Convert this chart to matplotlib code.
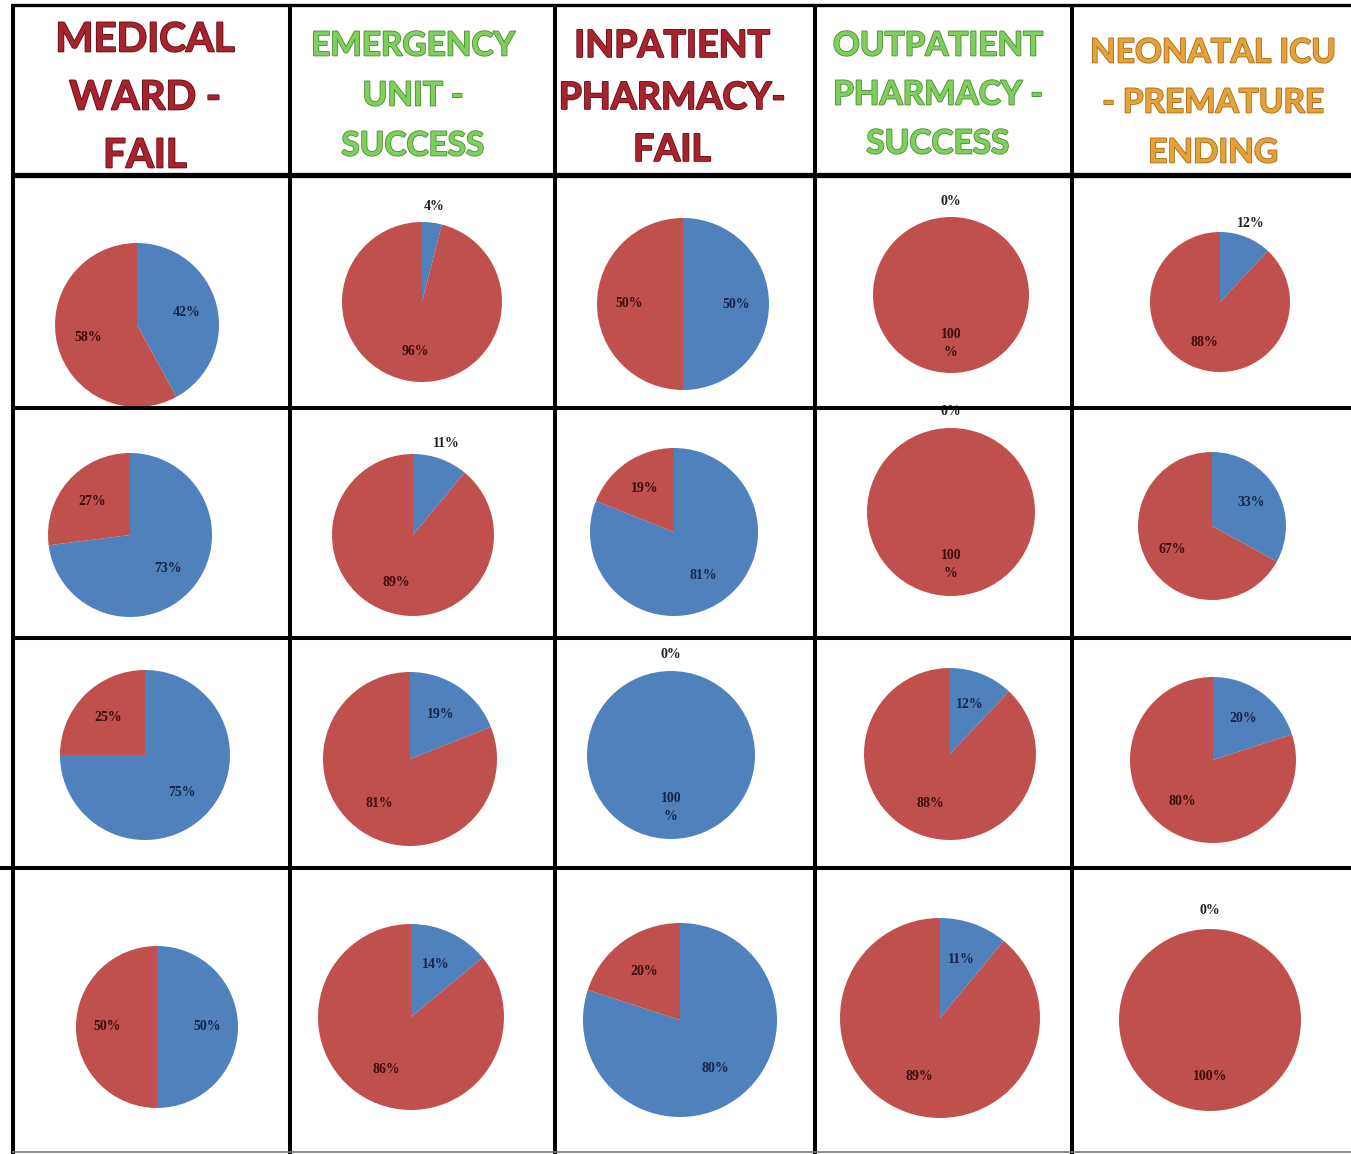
import matplotlib
matplotlib.use("Agg")
import matplotlib.pyplot as plt
import matplotlib.patheffects as pe
import numpy as np

# ---------------- data ----------------
units = ["MEDICAL\nWARD -\nFAIL",
         "EMERGENCY\nUNIT -\nSUCCESS",
         "INPATIENT\nPHARMACY-\nFAIL",
         "OUTPATIENT\nPHARMACY -\nSUCCESS",
         "NEONATAL ICU\n- PREMATURE\nENDING"]
# blue share (%) and red share (%) per row, for each unit
medical_ward_blue = [42, 73, 75, 50]
medical_ward_red = [58, 27, 25, 50]
emergency_blue = [4, 11, 19, 14]
emergency_red = [96, 89, 81, 86]
inpatient_blue = [50, 81, 100, 80]
inpatient_red = [50, 19, 0, 20]
outpatient_blue = [0, 0, 12, 11]
outpatient_red = [100, 100, 88, 89]
neonatal_blue = [12, 33, 20, 0]
neonatal_red = [88, 67, 80, 100]

blue_cols = [medical_ward_blue, emergency_blue, inpatient_blue, outpatient_blue, neonatal_blue]
red_cols = [medical_ward_red, emergency_red, inpatient_red, outpatient_red, neonatal_red]

# ---------------- style / layout ----------------
W, H = 1351, 1154
BLUE = "#4f81bd"
RED = "#c0504d"
header_colors = ["#a8232d", "#7fcf5c", "#a8232d", "#7fcf5c", "#e6a23a"]
header_edge = ["#5e0f14", "#4b8c33", "#5e0f14", "#4b8c33", "#a86a12"]
header_cx = [145, 413, 672, 938, 1213]
header_y0 = [40, 46, 46, 46, 53]
header_step = [58, 50, 52, 49, 50]
header_fs = [29, 24, 27, 24, 24]

# pie centers (px) and radii (px) per row/col
centers = [
    [(137, 325), (422, 302), (683, 304), (951, 295), (1220, 302)],
    [(130, 535), (413, 535), (674, 532), (951, 512), (1212, 526)],
    [(145, 755), (410, 759), (671, 755), (950, 754), (1213, 760)],
    [(157, 1027), (411, 1017), (680, 1020), (940, 1018), (1210, 1020)],
]
radii = [
    [82, 80, 86, 78, 70],
    [82, 81, 84, 84, 74],
    [85, 87, 84, 86, 83],
    [81, 93, 97, 100, 91],
]
# label placement: 'o' outside for blue label, 'r' outside for red label, '' inside
outside = [
    ["", "o", "", "o", "o"],
    ["", "o", "", "o", ""],
    ["", "", "r", "", ""],
    ["", "", "", "", "o"],
]
wrap100 = [
    [False, False, False, True, False],
    [False, False, False, True, False],
    [False, False, True, False, False],
    [False, False, False, False, False],
]

fig = plt.figure(figsize=(W / 100, H / 100), dpi=100)
fig.patch.set_facecolor("white")

PAD = 1.45
for r in range(4):
    for c in range(5):
        cx, cy = centers[r][c]
        rad = radii[r][c]
        half = rad * PAD
        ax = fig.add_axes([(cx - half) / W, 1 - (cy + half) / H, 2 * half / W, 2 * half / H])
        vals = [blue_cols[c][r], red_cols[c][r]]
        wedges, _ = ax.pie(vals, colors=[BLUE, RED], startangle=90, counterclock=False,
                           radius=1, wedgeprops=dict(linewidth=0))
        ax.set_xlim(-PAD, PAD)
        ax.set_ylim(-PAD, PAD)
        ax.set_aspect("equal")
        ax.axis("off")
        for k, w in enumerate(wedges):
            theta = np.deg2rad((w.theta1 + w.theta2) / 2)
            out = (outside[r][c] == "o" and k == 0) or (outside[r][c] == "r" and k == 1)
            dist = 1.2 if out else 0.62
            v = vals[k]
            txt = f"{v}%"
            if v == 100 and wrap100[r][c]:
                txt = "100\n%"
            if out:
                col = "#202020"
            else:
                col = "#15244a" if k == 0 else "#3d0c0c"
            ax.text(dist * np.cos(theta), dist * np.sin(theta), txt, ha="center", va="center",
                    fontsize=10, family="Liberation Serif", weight="bold", color=col,
                    linespacing=1.5, clip_on=False)

# header text
for c in range(5):
    lines = units[c].split("\n")
    for i, line in enumerate(lines):
        y = header_y0[c] + i * header_step[c]
        fig.text(header_cx[c] / W, 1 - y / H, line, ha="center", va="center",
                 fontsize=header_fs[c], family="Lato", weight="bold",
                 color=header_colors[c],
                 path_effects=[pe.withStroke(linewidth=1.2, foreground=header_edge[c])])

# grid lines overlay
gax = fig.add_axes([0, 0, 1, 1])
gax.set_xlim(0, W)
gax.set_ylim(H, 0)
gax.axis("off")
gax.patch.set_alpha(0)
lw = 2.9
for x in [13, 290, 555, 815, 1072]:
    gax.plot([x, x], [4, H], color="black", lw=lw, solid_capstyle="butt")
gax.plot([12, W], [5, 5], color="black", lw=2.4, solid_capstyle="butt")
gax.plot([12, W], [175, 175], color="black", lw=3.8, solid_capstyle="butt")
for y in [408, 638]:
    gax.plot([12, W], [y, y], color="black", lw=lw, solid_capstyle="butt")
gax.plot([0, W], [868, 868], color="black", lw=lw, solid_capstyle="butt")
gax.plot([12, W], [1152, 1152], color="#777777", lw=1.2, solid_capstyle="butt")

fig.savefig("out.png", dpi=100)
